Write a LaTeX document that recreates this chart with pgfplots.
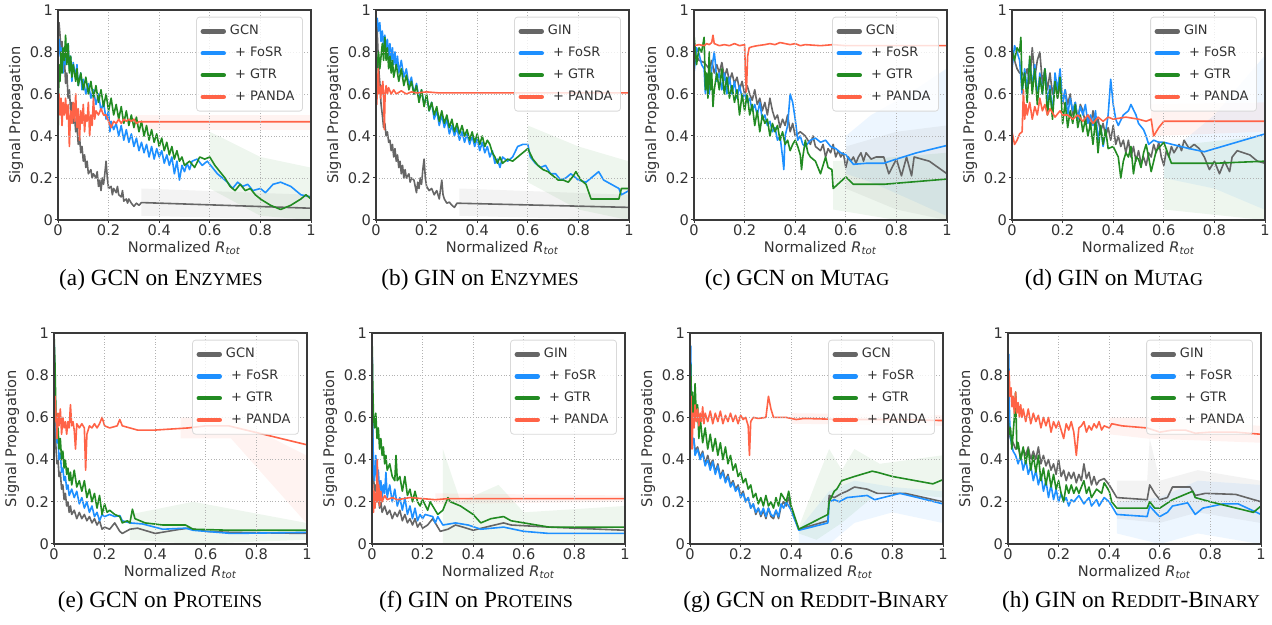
\documentclass[border=0pt]{standalone}
\usepackage{fontspec}
\setmainfont{Liberation Serif}
\setsansfont{DejaVu Sans}
\usepackage{pgfplots}
\pgfplotsset{compat=1.18}

\definecolor{gcngray}{HTML}{666666}
\definecolor{fosrblue}{HTML}{1E90FF}
\definecolor{gtrgreen}{HTML}{228B22}
\definecolor{pandared}{HTML}{FF6347}
\definecolor{framegray}{HTML}{3A3A3A}

\newcommand\fsc[1]{{\fontsize{9}{10}\selectfont #1}}

\pgfplotsset{
  panel/.style={
    scale only axis, width=126.5pt, height=105pt,
    xmin=0, xmax=1, ymin=0, ymax=1,
    xtick={0,0.2,0.4,0.6,0.8,1}, ytick={0,0.2,0.4,0.6,0.8,1},
    xtick pos=lower, ytick pos=left, axis on top,
    grid=major, grid style={densely dotted, black!30, line width=0.45pt},
    axis line style={draw=framegray, line width=0.55pt},
    tick align=outside, major tick length=1.3pt,
    tick style={draw=framegray, line width=0.5pt},
    ticklabel style={font=\sffamily\fontsize{7.3}{8}\selectfont, text=black!80, inner sep=1pt},
    /pgf/number format/assume math mode=true,
    xlabel={Normalized \textit{R}\textsubscript{\textit{tot}}},
    ylabel={Signal Propagation},
    every axis x label/.style={at={(axis description cs:0.5,0)}, anchor=center, yshift=-14pt, inner sep=0pt},
    every axis y label/.style={at={(axis description cs:-0.166,0.5)}, rotate=90, anchor=center, inner sep=0pt},
    label style={font=\sffamily\fontsize{7.3}{8}\selectfont, text=black!80},
    legend style={at={(0.968,0.968)}, anchor=north east,
      font=\sffamily\fontsize{6.5}{7}\selectfont, text=black!80,
      draw=black!15, rounded corners=1.5pt, fill=white, fill opacity=0.8,
      text opacity=1, inner xsep=2pt, inner ysep=2pt, row sep=0.6pt},
    legend cell align=left,
    legend image code/.code={\draw[line width=2.2pt, line cap=round] (0.5pt,0pt) -- (11pt,0pt);},
  },
  sGCN/.style={color=gcngray, line width=0.8pt, line join=round},
  sFOSR/.style={color=fosrblue, line width=0.8pt, line join=round},
  sGTR/.style={color=gtrgreen, line width=0.8pt, line join=round},
  sPANDA/.style={color=pandared, line width=0.8pt, line join=round},
  band/.style={draw=none, fill=#1, fill opacity=0.08, forget plot},
}
\newcommand\legGCN{\legend{GCN,\hspace{2.6pt}+ FoSR,\hspace{2.6pt}+ GTR,\hspace{2.6pt}+ PANDA}}
\newcommand\legGIN{\legend{GIN,\hspace{2.6pt}+ FoSR,\hspace{2.6pt}+ GTR,\hspace{2.6pt}+ PANDA}}

\begin{document}
\begin{tikzpicture}
\useasboundingbox (0pt,0pt) rectangle (636pt,312.5pt);

% ---------------- (a) GCN on ENZYMES
\begin{axis}[panel, at={(29pt,202.5pt)}, anchor=south west]
\addplot[band=gtrgreen] coordinates {(0.6,0.42)(0.8,0.3)(0.997,0.25)(0.997,0.0)(0.8,0.02)(0.6,0.15)};
\addplot[band=gcngray] coordinates {(0.33,0.15)(0.997,0.12)(0.997,0.0)(0.33,0.02)};
\addplot[band=pandared] coordinates {(0.3,0.5)(0.997,0.5)(0.997,0.43)(0.3,0.43)};
\addplot[sGCN] coordinates {(0,0.86)(0.004,0.94)(0.008,0.88)(0.012,0.80)(0.016,0.85)(0.02,0.72)(0.025,0.78)(0.03,0.65)(0.035,0.70)(0.04,0.58)(0.045,0.62)(0.05,0.52)(0.055,0.56)(0.06,0.46)(0.065,0.50)(0.07,0.42)(0.075,0.45)(0.08,0.36)(0.085,0.40)(0.09,0.32)(0.095,0.35)(0.1,0.28)(0.105,0.31)(0.11,0.25)(0.115,0.28)(0.12,0.22)(0.13,0.24)(0.135,0.2)(0.14,0.22)(0.15,0.2)(0.155,0.23)(0.16,0.16)(0.165,0.19)(0.17,0.14)(0.175,0.2)(0.18,0.17)(0.185,0.22)(0.19,0.28)(0.195,0.2)(0.2,0.15)(0.21,0.16)(0.215,0.12)(0.22,0.15)(0.23,0.13)(0.235,0.16)(0.24,0.12)(0.25,0.11)(0.255,0.14)(0.26,0.09)(0.27,0.1)(0.275,0.08)(0.28,0.1)(0.29,0.08)(0.3,0.065)(0.31,0.08)(0.32,0.07)(0.33,0.083)(1,0.056)};
\addplot[sFOSR] coordinates {(0,0.75)(0.005,0.86)(0.01,0.78)(0.015,0.82)(0.02,0.7)(0.025,0.8)(0.03,0.74)(0.04,0.84)(0.045,0.72)(0.05,0.78)(0.055,0.66)(0.06,0.75)(0.07,0.68)(0.075,0.74)(0.08,0.64)(0.09,0.7)(0.095,0.62)(0.1,0.67)(0.11,0.6)(0.12,0.65)(0.13,0.58)(0.14,0.62)(0.15,0.55)(0.16,0.6)(0.17,0.52)(0.18,0.56)(0.19,0.48)(0.2,0.52)(0.205,0.42)(0.21,0.47)(0.22,0.43)(0.23,0.46)(0.24,0.4)(0.25,0.45)(0.26,0.38)(0.27,0.43)(0.28,0.37)(0.29,0.41)(0.3,0.35)(0.31,0.39)(0.32,0.33)(0.33,0.37)(0.34,0.32)(0.35,0.36)(0.36,0.3)(0.37,0.35)(0.38,0.29)(0.39,0.34)(0.4,0.3)(0.41,0.33)(0.42,0.27)(0.43,0.31)(0.44,0.26)(0.45,0.3)(0.46,0.22)(0.47,0.28)(0.48,0.19)(0.49,0.26)(0.5,0.23)(0.51,0.27)(0.52,0.24)(0.53,0.28)(0.55,0.29)(0.57,0.26)(0.59,0.28)(0.61,0.25)(0.63,0.22)(0.65,0.2)(0.67,0.18)(0.69,0.15)(0.71,0.18)(0.73,0.16)(0.75,0.17)(0.77,0.14)(0.8,0.15)(0.82,0.13)(0.85,0.17)(0.88,0.18)(0.92,0.16)(0.96,0.12)(1,0.11)};
\addplot[sGTR] coordinates {(0,0.38)(0.004,0.74)(0.008,0.66)(0.012,0.8)(0.016,0.7)(0.02,0.82)(0.025,0.76)(0.03,0.88)(0.035,0.74)(0.04,0.84)(0.045,0.7)(0.05,0.78)(0.055,0.68)(0.06,0.74)(0.07,0.66)(0.075,0.72)(0.08,0.64)(0.09,0.7)(0.1,0.62)(0.11,0.68)(0.12,0.6)(0.13,0.66)(0.14,0.58)(0.15,0.64)(0.16,0.56)(0.17,0.62)(0.18,0.54)(0.19,0.6)(0.2,0.52)(0.21,0.58)(0.22,0.5)(0.23,0.55)(0.24,0.48)(0.25,0.54)(0.26,0.46)(0.27,0.52)(0.28,0.45)(0.29,0.5)(0.3,0.44)(0.31,0.49)(0.32,0.42)(0.33,0.47)(0.34,0.4)(0.35,0.45)(0.36,0.38)(0.37,0.43)(0.38,0.37)(0.39,0.41)(0.4,0.35)(0.41,0.39)(0.42,0.33)(0.43,0.37)(0.44,0.31)(0.45,0.35)(0.46,0.29)(0.47,0.33)(0.48,0.28)(0.49,0.3)(0.5,0.26)(0.52,0.28)(0.54,0.25)(0.56,0.3)(0.58,0.29)(0.6,0.3)(0.62,0.26)(0.64,0.23)(0.66,0.2)(0.68,0.16)(0.7,0.14)(0.72,0.17)(0.74,0.14)(0.76,0.15)(0.78,0.12)(0.8,0.1)(0.84,0.07)(0.88,0.05)(0.92,0.07)(0.96,0.1)(0.98,0.12)(1,0.1)};
\addplot[sPANDA] coordinates {(0,0.55)(0.004,0.6)(0.008,0.5)(0.012,0.58)(0.016,0.45)(0.02,0.56)(0.025,0.5)(0.03,0.58)(0.035,0.48)(0.04,0.55)(0.045,0.35)(0.05,0.52)(0.055,0.46)(0.06,0.56)(0.065,0.47)(0.07,0.6)(0.075,0.44)(0.08,0.53)(0.085,0.38)(0.09,0.52)(0.095,0.46)(0.1,0.55)(0.105,0.42)(0.11,0.5)(0.115,0.47)(0.12,0.56)(0.125,0.4)(0.13,0.5)(0.135,0.45)(0.14,0.58)(0.145,0.48)(0.15,0.52)(0.16,0.5)(0.17,0.53)(0.18,0.5)(0.19,0.5)(0.2,0.47)(0.21,0.44)(0.22,0.47)(0.23,0.46)(0.24,0.48)(0.25,0.46)(0.26,0.48)(0.27,0.47)(0.28,0.48)(0.29,0.47)(0.3,0.48)(0.31,0.46)(0.32,0.468)(1,0.468)};
\legGCN
\end{axis}

% ---------------- (b) GIN on ENZYMES
\begin{axis}[panel, at={(188pt,202.5pt)}, anchor=south west]
\addplot[band=gtrgreen] coordinates {(0.6,0.45)(0.8,0.35)(0.997,0.28)(0.997,0.0)(0.8,0.05)(0.6,0.18)};
\addplot[band=gcngray] coordinates {(0.33,0.15)(0.997,0.12)(0.997,0.0)(0.33,0.02)};
\addplot[sGCN] coordinates {(0,0.84)(0.004,0.92)(0.008,0.8)(0.012,0.7)(0.016,0.64)(0.02,0.55)(0.025,0.5)(0.03,0.44)(0.035,0.46)(0.04,0.4)(0.045,0.42)(0.05,0.37)(0.055,0.38)(0.06,0.33)(0.065,0.36)(0.07,0.3)(0.075,0.34)(0.08,0.28)(0.085,0.31)(0.09,0.25)(0.095,0.28)(0.1,0.22)(0.105,0.26)(0.11,0.2)(0.115,0.24)(0.12,0.2)(0.13,0.22)(0.135,0.18)(0.14,0.2)(0.15,0.19)(0.155,0.16)(0.16,0.13)(0.165,0.18)(0.17,0.15)(0.175,0.2)(0.18,0.17)(0.185,0.24)(0.19,0.29)(0.195,0.2)(0.2,0.16)(0.21,0.14)(0.22,0.15)(0.23,0.12)(0.24,0.14)(0.25,0.1)(0.26,0.19)(0.265,0.12)(0.27,0.1)(0.28,0.08)(0.29,0.085)(0.3,0.07)(0.31,0.06)(0.32,0.08)(1,0.06)};
\addplot[sFOSR] coordinates {(0,0.94)(0.005,0.96)(0.01,0.9)(0.015,0.94)(0.02,0.85)(0.025,0.9)(0.03,0.82)(0.035,0.88)(0.04,0.8)(0.045,0.86)(0.05,0.78)(0.055,0.84)(0.06,0.76)(0.065,0.82)(0.07,0.74)(0.075,0.8)(0.08,0.72)(0.085,0.78)(0.09,0.7)(0.1,0.76)(0.11,0.68)(0.12,0.72)(0.13,0.64)(0.14,0.68)(0.15,0.6)(0.16,0.65)(0.17,0.58)(0.18,0.62)(0.19,0.55)(0.2,0.59)(0.21,0.52)(0.22,0.56)(0.23,0.48)(0.24,0.52)(0.25,0.45)(0.26,0.5)(0.27,0.44)(0.28,0.48)(0.29,0.41)(0.3,0.45)(0.31,0.4)(0.32,0.44)(0.33,0.38)(0.34,0.42)(0.35,0.37)(0.36,0.41)(0.37,0.36)(0.38,0.4)(0.39,0.35)(0.4,0.39)(0.41,0.33)(0.42,0.37)(0.43,0.32)(0.44,0.35)(0.45,0.3)(0.46,0.33)(0.47,0.27)(0.48,0.29)(0.49,0.25)(0.5,0.3)(0.52,0.28)(0.54,0.3)(0.56,0.35)(0.58,0.36)(0.6,0.36)(0.61,0.3)(0.63,0.27)(0.65,0.25)(0.67,0.26)(0.69,0.22)(0.71,0.22)(0.73,0.19)(0.75,0.2)(0.77,0.22)(0.8,0.19)(0.83,0.18)(0.85,0.2)(0.88,0.23)(0.9,0.19)(0.93,0.17)(0.96,0.15)(0.97,0.12)(1,0.14)};
\addplot[sGTR] coordinates {(0,0.68)(0.005,0.74)(0.01,0.8)(0.015,0.72)(0.02,0.78)(0.025,0.84)(0.03,0.76)(0.035,0.87)(0.04,0.76)(0.045,0.82)(0.05,0.72)(0.055,0.78)(0.06,0.7)(0.065,0.76)(0.07,0.68)(0.08,0.74)(0.09,0.66)(0.1,0.72)(0.11,0.64)(0.12,0.69)(0.13,0.62)(0.14,0.66)(0.15,0.6)(0.16,0.64)(0.17,0.56)(0.18,0.62)(0.19,0.54)(0.2,0.6)(0.21,0.52)(0.22,0.56)(0.23,0.5)(0.24,0.54)(0.25,0.47)(0.26,0.52)(0.27,0.46)(0.28,0.5)(0.29,0.44)(0.3,0.48)(0.31,0.42)(0.32,0.46)(0.33,0.41)(0.34,0.45)(0.35,0.4)(0.36,0.43)(0.37,0.38)(0.38,0.42)(0.39,0.37)(0.4,0.41)(0.41,0.36)(0.42,0.4)(0.43,0.35)(0.44,0.38)(0.45,0.36)(0.46,0.32)(0.47,0.3)(0.48,0.27)(0.49,0.3)(0.5,0.27)(0.52,0.29)(0.54,0.28)(0.56,0.3)(0.58,0.32)(0.6,0.34)(0.62,0.29)(0.64,0.26)(0.66,0.24)(0.68,0.23)(0.7,0.21)(0.72,0.19)(0.74,0.19)(0.76,0.18)(0.78,0.21)(0.79,0.23)(0.81,0.19)(0.83,0.17)(0.85,0.1)(0.9,0.1)(0.96,0.1)(0.97,0.15)(1,0.15)};
\addplot[sPANDA] coordinates {(0,0.6)(0.003,0.55)(0.006,0.65)(0.009,0.72)(0.012,0.6)(0.015,0.63)(0.018,0.58)(0.021,0.64)(0.024,0.6)(0.027,0.66)(0.03,0.58)(0.033,0.43)(0.036,0.6)(0.04,0.64)(0.045,0.6)(0.05,0.63)(0.06,0.6)(0.07,0.62)(0.08,0.6)(0.1,0.615)(0.12,0.6)(0.14,0.61)(0.16,0.605)(0.2,0.61)(0.25,0.605)(1,0.605)};
\legGIN
\end{axis}

% ---------------- (c) GCN on MUTAG
\begin{axis}[panel, at={(347pt,202.5pt)}, anchor=south west]
\addplot[band=fosrblue] coordinates {(0.6,0.4)(0.7,0.5)(0.85,0.6)(0.997,0.72)(0.997,0.02)(0.85,0.1)(0.7,0.18)(0.6,0.22)};
\addplot[band=gcngray] coordinates {(0.6,0.35)(0.8,0.42)(0.997,0.45)(0.997,0.0)(0.8,0.05)(0.6,0.15)};
\addplot[band=gtrgreen] coordinates {(0.55,0.28)(0.8,0.3)(0.997,0.32)(0.997,0.0)(0.8,0.0)(0.55,0.05)};
\addplot[sGCN] coordinates {(0,0.8)(0.02,0.76)(0.04,0.75)(0.06,0.72)(0.07,0.76)(0.08,0.7)(0.09,0.74)(0.1,0.7)(0.11,0.75)(0.12,0.68)(0.13,0.72)(0.14,0.66)(0.15,0.7)(0.16,0.65)(0.17,0.68)(0.18,0.62)(0.19,0.66)(0.2,0.6)(0.21,0.64)(0.22,0.6)(0.23,0.57)(0.24,0.62)(0.25,0.55)(0.26,0.58)(0.27,0.52)(0.28,0.56)(0.29,0.5)(0.3,0.58)(0.31,0.52)(0.32,0.48)(0.33,0.5)(0.34,0.44)(0.35,0.48)(0.36,0.45)(0.37,0.5)(0.38,0.42)(0.39,0.46)(0.4,0.4)(0.42,0.42)(0.44,0.4)(0.45,0.38)(0.46,0.36)(0.47,0.4)(0.48,0.35)(0.5,0.33)(0.51,0.36)(0.52,0.3)(0.53,0.34)(0.54,0.32)(0.55,0.36)(0.56,0.3)(0.57,0.33)(0.58,0.3)(0.59,0.32)(0.6,0.25)(0.61,0.3)(0.62,0.28)(0.63,0.3)(0.64,0.27)(0.65,0.3)(0.66,0.32)(0.67,0.28)(0.68,0.32)(0.7,0.29)(0.72,0.3)(0.75,0.3)(0.77,0.22)(0.8,0.29)(0.82,0.21)(0.84,0.3)(0.86,0.21)(0.87,0.3)(0.93,0.28)(1,0.22)};
\addplot[sFOSR] coordinates {(0,0.7)(0.01,0.82)(0.02,0.79)(0.03,0.74)(0.04,0.72)(0.045,0.6)(0.05,0.66)(0.06,0.6)(0.07,0.72)(0.08,0.8)(0.085,0.74)(0.09,0.66)(0.1,0.7)(0.11,0.62)(0.12,0.7)(0.13,0.6)(0.14,0.68)(0.15,0.6)(0.16,0.66)(0.17,0.58)(0.18,0.64)(0.19,0.58)(0.2,0.6)(0.21,0.56)(0.22,0.58)(0.23,0.52)(0.24,0.55)(0.25,0.5)(0.26,0.56)(0.27,0.48)(0.28,0.5)(0.29,0.45)(0.3,0.47)(0.31,0.42)(0.32,0.44)(0.33,0.38)(0.34,0.4)(0.35,0.3)(0.355,0.24)(0.36,0.4)(0.37,0.45)(0.38,0.6)(0.39,0.56)(0.4,0.48)(0.41,0.38)(0.42,0.4)(0.43,0.36)(0.44,0.35)(0.46,0.38)(0.48,0.39)(0.5,0.37)(0.52,0.38)(0.54,0.35)(0.56,0.34)(0.58,0.32)(0.6,0.31)(0.63,0.265)(0.68,0.27)(0.75,0.27)(0.8,0.29)(0.88,0.32)(1,0.355)};
\addplot[sGTR] coordinates {(0,0.88)(0.01,0.74)(0.02,0.82)(0.03,0.8)(0.04,0.87)(0.045,0.62)(0.05,0.7)(0.055,0.58)(0.06,0.8)(0.065,0.62)(0.07,0.7)(0.075,0.54)(0.08,0.62)(0.09,0.7)(0.1,0.62)(0.11,0.72)(0.12,0.6)(0.13,0.68)(0.14,0.58)(0.15,0.64)(0.16,0.56)(0.17,0.62)(0.18,0.5)(0.19,0.6)(0.2,0.52)(0.21,0.6)(0.22,0.5)(0.23,0.55)(0.24,0.45)(0.25,0.52)(0.26,0.42)(0.27,0.5)(0.28,0.46)(0.29,0.48)(0.3,0.4)(0.31,0.46)(0.32,0.42)(0.33,0.45)(0.34,0.38)(0.35,0.42)(0.36,0.36)(0.37,0.38)(0.38,0.33)(0.39,0.36)(0.4,0.38)(0.41,0.35)(0.42,0.31)(0.425,0.24)(0.43,0.3)(0.44,0.38)(0.45,0.32)(0.46,0.3)(0.48,0.28)(0.5,0.22)(0.52,0.3)(0.53,0.25)(0.545,0.24)(0.55,0.15)(0.6,0.205)(0.63,0.17)(0.75,0.17)(1,0.195)};
\addplot[sPANDA] coordinates {(0,0.83)(0.02,0.835)(0.04,0.83)(0.05,0.84)(0.06,0.835)(0.07,0.845)(0.075,0.88)(0.08,0.84)(0.1,0.83)(0.12,0.835)(0.14,0.83)(0.16,0.84)(0.18,0.83)(0.2,0.835)(0.203,0.7)(0.207,0.61)(0.212,0.78)(0.218,0.82)(0.23,0.825)(0.25,0.83)(0.28,0.835)(0.3,0.84)(0.32,0.835)(0.34,0.845)(0.36,0.84)(0.38,0.835)(0.4,0.84)(0.42,0.83)(0.44,0.835)(0.5,0.83)(0.55,0.835)(0.6,0.83)(1,0.83)};
\legGCN
\end{axis}

% ---------------- (d) GIN on MUTAG
\begin{axis}[panel, at={(506pt,202.5pt)}, anchor=south west]
\addplot[band=fosrblue] coordinates {(0.6,0.3)(0.8,0.5)(0.997,0.78)(0.997,0.05)(0.8,0.15)(0.6,0.2)};
\addplot[band=pandared] coordinates {(0.55,0.55)(0.997,0.56)(0.997,0.42)(0.55,0.4)};
\addplot[band=gtrgreen] coordinates {(0.6,0.35)(0.997,0.4)(0.997,0.0)(0.6,0.05)};
\addplot[sGCN] coordinates {(0,0.8)(0.01,0.76)(0.02,0.72)(0.03,0.7)(0.04,0.7)(0.05,0.68)(0.06,0.72)(0.07,0.65)(0.08,0.82)(0.09,0.68)(0.1,0.76)(0.11,0.8)(0.12,0.65)(0.13,0.72)(0.14,0.62)(0.15,0.7)(0.16,0.6)(0.17,0.66)(0.18,0.58)(0.19,0.64)(0.2,0.55)(0.21,0.62)(0.22,0.55)(0.23,0.6)(0.24,0.5)(0.25,0.56)(0.26,0.48)(0.27,0.55)(0.28,0.52)(0.29,0.46)(0.3,0.5)(0.31,0.44)(0.32,0.52)(0.33,0.45)(0.34,0.48)(0.35,0.42)(0.36,0.46)(0.37,0.4)(0.38,0.44)(0.39,0.38)(0.4,0.45)(0.41,0.36)(0.42,0.4)(0.43,0.35)(0.44,0.38)(0.45,0.32)(0.46,0.38)(0.47,0.3)(0.48,0.35)(0.49,0.28)(0.5,0.33)(0.51,0.27)(0.52,0.3)(0.53,0.26)(0.54,0.32)(0.55,0.3)(0.56,0.36)(0.57,0.32)(0.58,0.37)(0.59,0.3)(0.6,0.26)(0.61,0.33)(0.62,0.3)(0.63,0.35)(0.64,0.32)(0.66,0.36)(0.67,0.33)(0.68,0.38)(0.7,0.34)(0.72,0.36)(0.74,0.34)(0.76,0.3)(0.78,0.24)(0.8,0.28)(0.82,0.22)(0.84,0.28)(0.86,0.23)(0.87,0.3)(0.89,0.33)(0.94,0.31)(0.97,0.28)(1,0.27)};
\addplot[sFOSR] coordinates {(0,0.72)(0.01,0.83)(0.02,0.8)(0.03,0.76)(0.04,0.6)(0.05,0.72)(0.06,0.62)(0.07,0.76)(0.08,0.64)(0.09,0.74)(0.1,0.58)(0.11,0.7)(0.12,0.6)(0.13,0.72)(0.14,0.56)(0.15,0.64)(0.16,0.5)(0.17,0.7)(0.18,0.62)(0.19,0.72)(0.2,0.56)(0.21,0.62)(0.22,0.5)(0.23,0.58)(0.24,0.52)(0.25,0.56)(0.26,0.48)(0.27,0.54)(0.28,0.5)(0.29,0.55)(0.3,0.46)(0.31,0.5)(0.32,0.45)(0.33,0.52)(0.34,0.38)(0.35,0.45)(0.36,0.35)(0.37,0.42)(0.38,0.5)(0.39,0.67)(0.4,0.55)(0.41,0.48)(0.42,0.45)(0.44,0.5)(0.46,0.52)(0.47,0.55)(0.49,0.5)(0.5,0.46)(0.52,0.43)(0.53,0.4)(0.54,0.36)(0.56,0.38)(0.58,0.37)(0.6,0.37)(0.7,0.34)(0.76,0.325)(1,0.41)};
\addplot[sGTR] coordinates {(0,0.81)(0.01,0.76)(0.02,0.82)(0.03,0.8)(0.035,0.87)(0.04,0.62)(0.05,0.7)(0.06,0.56)(0.07,0.78)(0.08,0.6)(0.09,0.72)(0.1,0.55)(0.11,0.68)(0.12,0.6)(0.13,0.72)(0.14,0.5)(0.15,0.62)(0.16,0.48)(0.17,0.66)(0.18,0.58)(0.19,0.68)(0.2,0.46)(0.21,0.56)(0.22,0.44)(0.23,0.52)(0.24,0.46)(0.25,0.55)(0.26,0.44)(0.27,0.5)(0.28,0.42)(0.29,0.48)(0.3,0.4)(0.31,0.46)(0.32,0.36)(0.33,0.48)(0.34,0.32)(0.35,0.45)(0.36,0.36)(0.37,0.43)(0.38,0.34)(0.4,0.35)(0.42,0.3)(0.43,0.2)(0.44,0.28)(0.45,0.32)(0.46,0.3)(0.47,0.35)(0.48,0.22)(0.49,0.3)(0.5,0.29)(0.51,0.25)(0.52,0.32)(0.53,0.36)(0.54,0.3)(0.55,0.23)(0.57,0.33)(0.6,0.37)(0.63,0.27)(0.8,0.27)(1,0.28)};
\addplot[sPANDA] coordinates {(0,0.42)(0.01,0.36)(0.02,0.38)(0.03,0.41)(0.04,0.42)(0.045,0.62)(0.05,0.48)(0.055,0.55)(0.06,0.5)(0.07,0.56)(0.08,0.48)(0.09,0.54)(0.1,0.5)(0.11,0.58)(0.12,0.52)(0.13,0.55)(0.14,0.5)(0.15,0.53)(0.17,0.49)(0.19,0.52)(0.2,0.5)(0.22,0.5)(0.24,0.48)(0.26,0.5)(0.28,0.47)(0.3,0.5)(0.32,0.46)(0.34,0.49)(0.36,0.47)(0.38,0.49)(0.4,0.48)(0.45,0.49)(0.5,0.48)(0.53,0.47)(0.55,0.48)(0.56,0.4)(0.58,0.44)(0.6,0.47)(1,0.47)};
\legGIN
\end{axis}

% ---------------- (e) GCN on PROTEINS
\begin{axis}[panel, height=105.5pt, at={(27pt,40.5pt)}, anchor=south west]
\addplot[band=pandared] coordinates {(0.5,0.6)(0.7,0.6)(0.997,0.42)(0.997,0.1)(0.7,0.5)(0.5,0.5)};
\addplot[band=gtrgreen] coordinates {(0.3,0.14)(0.55,0.2)(0.997,0.1)(0.997,0.02)(0.55,0.0)(0.3,0.02)};
\addplot[sGCN] coordinates {(0,1)(0.004,0.6)(0.008,0.45)(0.012,0.38)(0.016,0.4)(0.02,0.32)(0.025,0.34)(0.03,0.26)(0.035,0.28)(0.04,0.21)(0.045,0.24)(0.05,0.18)(0.055,0.2)(0.06,0.15)(0.065,0.18)(0.07,0.14)(0.08,0.16)(0.09,0.12)(0.1,0.15)(0.11,0.12)(0.12,0.14)(0.13,0.11)(0.14,0.13)(0.15,0.1)(0.16,0.12)(0.17,0.09)(0.18,0.11)(0.19,0.07)(0.2,0.08)(0.22,0.07)(0.24,0.1)(0.26,0.06)(0.27,0.05)(0.3,0.07)(0.33,0.075)(0.4,0.05)(0.5,0.07)(0.53,0.075)(0.6,0.06)(0.7,0.055)(1,0.05)};
\addplot[sFOSR] coordinates {(0,1)(0.004,0.72)(0.008,0.55)(0.012,0.48)(0.016,0.5)(0.02,0.4)(0.025,0.43)(0.03,0.34)(0.035,0.36)(0.04,0.3)(0.045,0.32)(0.05,0.26)(0.055,0.28)(0.06,0.23)(0.07,0.26)(0.08,0.22)(0.09,0.25)(0.1,0.19)(0.11,0.22)(0.12,0.17)(0.13,0.2)(0.14,0.15)(0.15,0.18)(0.16,0.13)(0.17,0.15)(0.18,0.11)(0.19,0.14)(0.2,0.13)(0.22,0.14)(0.24,0.13)(0.26,0.135)(0.27,0.11)(0.3,0.1)(0.35,0.095)(0.43,0.07)(0.52,0.075)(0.55,0.065)(0.7,0.05)(1,0.055)};
\addplot[sGTR] coordinates {(0,1)(0.004,0.85)(0.008,0.6)(0.012,0.52)(0.016,0.55)(0.02,0.45)(0.025,0.5)(0.03,0.4)(0.035,0.44)(0.04,0.36)(0.045,0.4)(0.05,0.33)(0.055,0.36)(0.06,0.3)(0.065,0.34)(0.07,0.28)(0.08,0.35)(0.09,0.27)(0.1,0.3)(0.11,0.25)(0.12,0.3)(0.13,0.22)(0.14,0.26)(0.15,0.2)(0.16,0.24)(0.17,0.17)(0.18,0.23)(0.19,0.14)(0.2,0.19)(0.21,0.15)(0.22,0.16)(0.24,0.14)(0.26,0.13)(0.27,0.1)(0.29,0.11)(0.3,0.1)(0.31,0.165)(0.32,0.12)(0.36,0.1)(0.43,0.09)(0.52,0.09)(0.55,0.07)(0.7,0.065)(1,0.065)};
\addplot[sPANDA] coordinates {(0,0.55)(0.004,0.7)(0.008,0.6)(0.012,0.5)(0.016,0.62)(0.02,0.56)(0.025,0.64)(0.03,0.52)(0.035,0.6)(0.04,0.55)(0.045,0.58)(0.05,0.52)(0.055,0.58)(0.06,0.55)(0.065,0.66)(0.07,0.56)(0.075,0.58)(0.08,0.54)(0.085,0.45)(0.09,0.57)(0.1,0.55)(0.11,0.57)(0.12,0.55)(0.125,0.35)(0.13,0.52)(0.14,0.56)(0.15,0.55)(0.16,0.57)(0.17,0.55)(0.18,0.57)(0.19,0.6)(0.2,0.56)(0.22,0.55)(0.25,0.56)(0.26,0.59)(0.27,0.56)(0.3,0.55)(0.33,0.54)(0.4,0.54)(0.53,0.55)(0.6,0.56)(0.69,0.56)(1,0.47)};
\legGCN
\end{axis}

% ---------------- (f) GIN on PROTEINS
\begin{axis}[panel, height=105.5pt, at={(186pt,40.5pt)}, anchor=south west]
\addplot[band=gtrgreen] coordinates {(0.28,0.45)(0.35,0.2)(0.5,0.28)(0.6,0.15)(0.997,0.18)(0.997,0.0)(0.5,0.0)(0.28,0.0)};
\addplot[band=pandared] coordinates {(0.25,0.24)(0.997,0.23)(0.997,0.2)(0.25,0.19)};
\addplot[sGCN] coordinates {(0,1)(0.003,0.5)(0.006,0.32)(0.01,0.25)(0.015,0.28)(0.02,0.2)(0.025,0.22)(0.03,0.17)(0.035,0.2)(0.04,0.15)(0.05,0.18)(0.06,0.14)(0.07,0.16)(0.08,0.12)(0.09,0.15)(0.1,0.13)(0.11,0.16)(0.12,0.11)(0.13,0.14)(0.14,0.1)(0.15,0.12)(0.16,0.09)(0.17,0.12)(0.18,0.08)(0.19,0.1)(0.2,0.075)(0.22,0.09)(0.24,0.12)(0.26,0.08)(0.27,0.06)(0.3,0.07)(0.33,0.09)(0.36,0.08)(0.4,0.065)(0.45,0.08)(0.52,0.1)(0.55,0.09)(0.7,0.08)(1,0.065)};
\addplot[sFOSR] coordinates {(0,1)(0.003,0.55)(0.006,0.35)(0.01,0.3)(0.015,0.42)(0.02,0.3)(0.025,0.35)(0.03,0.25)(0.035,0.3)(0.04,0.22)(0.045,0.28)(0.05,0.24)(0.055,0.34)(0.06,0.22)(0.07,0.28)(0.08,0.2)(0.09,0.26)(0.1,0.18)(0.11,0.22)(0.12,0.16)(0.13,0.22)(0.14,0.14)(0.15,0.18)(0.16,0.12)(0.17,0.17)(0.18,0.11)(0.19,0.14)(0.2,0.12)(0.21,0.14)(0.24,0.13)(0.25,0.1)(0.26,0.13)(0.28,0.09)(0.33,0.1)(0.38,0.09)(0.43,0.07)(0.52,0.08)(0.6,0.06)(0.7,0.05)(1,0.05)};
\addplot[sGTR] coordinates {(0,1)(0.003,0.75)(0.006,0.6)(0.01,0.55)(0.015,0.62)(0.02,0.5)(0.025,0.55)(0.03,0.45)(0.035,0.5)(0.04,0.42)(0.045,0.46)(0.05,0.38)(0.055,0.42)(0.06,0.35)(0.07,0.38)(0.08,0.32)(0.09,0.3)(0.095,0.42)(0.1,0.3)(0.11,0.32)(0.12,0.25)(0.13,0.32)(0.14,0.23)(0.15,0.26)(0.16,0.2)(0.17,0.25)(0.18,0.2)(0.19,0.18)(0.2,0.21)(0.22,0.16)(0.23,0.2)(0.26,0.14)(0.28,0.16)(0.3,0.22)(0.31,0.2)(0.35,0.18)(0.4,0.14)(0.43,0.1)(0.47,0.12)(0.52,0.13)(0.55,0.11)(0.65,0.09)(0.7,0.08)(1,0.08)};
\addplot[sPANDA] coordinates {(0,0.2)(0.003,0.28)(0.006,0.15)(0.009,0.25)(0.012,0.17)(0.015,0.24)(0.018,0.2)(0.021,0.4)(0.024,0.2)(0.027,0.28)(0.03,0.18)(0.035,0.25)(0.04,0.2)(0.05,0.23)(0.06,0.21)(0.08,0.22)(0.1,0.21)(0.15,0.22)(0.25,0.21)(0.3,0.215)(1,0.215)};
\legGIN
\end{axis}

% ---------------- (g) GCN on REDDIT-BINARY
\begin{axis}[panel, height=105.5pt, at={(345pt,40.5pt)}, anchor=south west]
\addplot[band=gtrgreen] coordinates {(0.43,0.08)(0.5,0.3)(0.55,0.45)(0.6,0.35)(0.65,0.45)(0.75,0.38)(0.997,0.42)(0.997,0.22)(0.75,0.25)(0.6,0.1)(0.5,0.02)(0.43,0.05)};
\addplot[band=fosrblue] coordinates {(0.43,0.07)(0.55,0.25)(0.65,0.3)(0.8,0.27)(0.997,0.25)(0.997,0.1)(0.8,0.15)(0.65,0.1)(0.55,0.0)(0.43,0.0)};
\addplot[band=pandared] coordinates {(0.4,0.62)(0.997,0.61)(0.997,0.56)(0.4,0.57)};
\addplot[sGCN] coordinates {(0,0.75)(0.005,0.55)(0.01,0.48)(0.015,0.5)(0.02,0.44)(0.03,0.46)(0.04,0.41)(0.05,0.44)(0.06,0.38)(0.07,0.42)(0.08,0.37)(0.09,0.4)(0.1,0.34)(0.11,0.38)(0.12,0.32)(0.13,0.35)(0.14,0.3)(0.15,0.33)(0.16,0.28)(0.17,0.3)(0.18,0.26)(0.19,0.28)(0.2,0.23)(0.21,0.25)(0.22,0.2)(0.23,0.22)(0.24,0.17)(0.25,0.19)(0.26,0.14)(0.27,0.17)(0.28,0.13)(0.29,0.16)(0.3,0.12)(0.31,0.17)(0.32,0.13)(0.33,0.12)(0.34,0.16)(0.35,0.12)(0.36,0.18)(0.37,0.2)(0.38,0.18)(0.39,0.22)(0.4,0.16)(0.43,0.07)(0.545,0.11)(0.55,0.23)(0.57,0.22)(0.6,0.24)(0.62,0.25)(0.65,0.27)(0.7,0.26)(0.74,0.24)(0.85,0.24)(1,0.2)};
\addplot[sFOSR] coordinates {(0.003,0.94)(0.006,0.6)(0.01,0.48)(0.015,0.5)(0.02,0.42)(0.03,0.45)(0.04,0.4)(0.05,0.43)(0.06,0.37)(0.07,0.4)(0.08,0.35)(0.09,0.39)(0.1,0.33)(0.11,0.37)(0.12,0.31)(0.13,0.34)(0.14,0.29)(0.15,0.32)(0.16,0.27)(0.17,0.29)(0.18,0.25)(0.19,0.27)(0.2,0.22)(0.21,0.24)(0.22,0.2)(0.23,0.22)(0.24,0.17)(0.25,0.19)(0.26,0.15)(0.27,0.17)(0.28,0.14)(0.29,0.17)(0.3,0.13)(0.31,0.17)(0.32,0.14)(0.33,0.13)(0.34,0.16)(0.35,0.13)(0.36,0.19)(0.37,0.17)(0.38,0.2)(0.39,0.18)(0.4,0.16)(0.43,0.065)(0.545,0.1)(0.55,0.2)(0.57,0.21)(0.59,0.2)(0.62,0.22)(0.7,0.23)(0.73,0.21)(0.83,0.24)(0.9,0.22)(1,0.19)};
\addplot[sGTR] coordinates {(0,0.7)(0.003,0.85)(0.006,0.62)(0.01,0.72)(0.015,0.58)(0.02,0.76)(0.025,0.6)(0.03,0.66)(0.035,0.5)(0.04,0.6)(0.05,0.48)(0.06,0.55)(0.07,0.45)(0.08,0.52)(0.09,0.44)(0.1,0.5)(0.11,0.42)(0.12,0.48)(0.13,0.4)(0.14,0.46)(0.15,0.38)(0.16,0.42)(0.17,0.35)(0.18,0.38)(0.19,0.32)(0.2,0.34)(0.21,0.29)(0.22,0.31)(0.23,0.26)(0.24,0.28)(0.25,0.22)(0.26,0.24)(0.27,0.19)(0.28,0.22)(0.29,0.18)(0.3,0.23)(0.31,0.18)(0.32,0.2)(0.33,0.17)(0.34,0.22)(0.35,0.18)(0.36,0.24)(0.37,0.22)(0.38,0.2)(0.39,0.25)(0.4,0.18)(0.43,0.07)(0.545,0.14)(0.55,0.2)(0.57,0.25)(0.58,0.26)(0.6,0.3)(0.65,0.32)(0.72,0.345)(0.74,0.34)(0.8,0.32)(0.96,0.285)(1,0.305)};
\addplot[sPANDA] coordinates {(0,0.6)(0.004,0.7)(0.008,0.45)(0.012,0.62)(0.016,0.55)(0.02,0.66)(0.025,0.58)(0.03,0.64)(0.035,0.56)(0.04,0.62)(0.045,0.58)(0.05,0.65)(0.055,0.57)(0.06,0.62)(0.07,0.58)(0.08,0.63)(0.09,0.57)(0.1,0.62)(0.11,0.58)(0.12,0.63)(0.13,0.57)(0.14,0.61)(0.15,0.58)(0.16,0.62)(0.17,0.58)(0.18,0.61)(0.19,0.57)(0.2,0.61)(0.21,0.59)(0.22,0.6)(0.23,0.56)(0.235,0.42)(0.24,0.58)(0.25,0.6)(0.27,0.595)(0.3,0.6)(0.31,0.7)(0.32,0.64)(0.33,0.6)(0.36,0.6)(0.38,0.6)(0.4,0.595)(0.42,0.59)(0.45,0.595)(0.6,0.59)(0.8,0.59)(1,0.585)};
\legGCN
\end{axis}

% ---------------- (h) GIN on REDDIT-BINARY
\begin{axis}[panel, height=105.5pt, at={(504pt,40.5pt)}, anchor=south west]
\addplot[band=gcngray] coordinates {(0.43,0.3)(0.55,0.3)(0.56,0.5)(0.6,0.3)(0.75,0.35)(0.997,0.3)(0.997,0.1)(0.75,0.15)(0.6,0.1)(0.43,0.12)};
\addplot[band=fosrblue] coordinates {(0.43,0.2)(0.6,0.22)(0.75,0.3)(0.997,0.28)(0.997,0.0)(0.75,0.05)(0.6,0.0)(0.43,0.05)};
\addplot[band=pandared] coordinates {(0.4,0.6)(0.55,0.6)(0.997,0.56)(0.997,0.48)(0.55,0.5)(0.4,0.52)};
\addplot[sGCN] coordinates {(0,0.6)(0.005,0.52)(0.01,0.5)(0.02,0.48)(0.03,0.45)(0.04,0.47)(0.05,0.4)(0.06,0.45)(0.07,0.42)(0.08,0.46)(0.09,0.4)(0.1,0.44)(0.11,0.4)(0.12,0.46)(0.13,0.38)(0.14,0.42)(0.15,0.37)(0.16,0.4)(0.17,0.35)(0.18,0.38)(0.19,0.33)(0.2,0.4)(0.21,0.32)(0.22,0.35)(0.23,0.3)(0.24,0.34)(0.25,0.31)(0.26,0.34)(0.27,0.29)(0.28,0.33)(0.29,0.3)(0.3,0.38)(0.31,0.31)(0.32,0.34)(0.33,0.28)(0.34,0.32)(0.35,0.28)(0.36,0.3)(0.38,0.31)(0.4,0.28)(0.43,0.22)(0.55,0.21)(0.56,0.28)(0.58,0.24)(0.6,0.21)(0.63,0.22)(0.65,0.27)(0.72,0.27)(0.74,0.23)(0.78,0.24)(0.9,0.235)(1,0.2)};
\addplot[sFOSR] coordinates {(0,0.6)(0.003,0.9)(0.006,0.6)(0.01,0.5)(0.02,0.44)(0.03,0.42)(0.04,0.38)(0.05,0.42)(0.06,0.35)(0.07,0.4)(0.08,0.33)(0.09,0.37)(0.1,0.3)(0.11,0.35)(0.12,0.28)(0.13,0.33)(0.14,0.25)(0.15,0.3)(0.16,0.22)(0.17,0.28)(0.18,0.21)(0.19,0.26)(0.2,0.2)(0.21,0.24)(0.22,0.2)(0.23,0.22)(0.24,0.18)(0.25,0.21)(0.26,0.2)(0.28,0.23)(0.3,0.19)(0.32,0.22)(0.33,0.18)(0.35,0.21)(0.36,0.18)(0.38,0.22)(0.4,0.2)(0.43,0.14)(0.55,0.13)(0.56,0.18)(0.59,0.14)(0.6,0.13)(0.63,0.15)(0.65,0.18)(0.71,0.195)(0.74,0.14)(0.77,0.17)(0.85,0.19)(0.91,0.19)(1,0.14)};
\addplot[sGTR] coordinates {(0,0.6)(0.005,0.52)(0.01,0.55)(0.015,0.45)(0.02,0.52)(0.025,0.6)(0.03,0.72)(0.035,0.45)(0.04,0.48)(0.05,0.4)(0.06,0.46)(0.07,0.38)(0.08,0.45)(0.09,0.35)(0.1,0.42)(0.11,0.34)(0.12,0.42)(0.13,0.3)(0.14,0.36)(0.15,0.28)(0.16,0.35)(0.17,0.27)(0.18,0.33)(0.19,0.26)(0.2,0.3)(0.21,0.24)(0.22,0.2)(0.23,0.28)(0.24,0.24)(0.25,0.28)(0.26,0.24)(0.27,0.27)(0.28,0.24)(0.3,0.3)(0.31,0.24)(0.32,0.27)(0.33,0.22)(0.35,0.26)(0.37,0.24)(0.38,0.29)(0.39,0.27)(0.4,0.25)(0.41,0.2)(0.43,0.17)(0.55,0.17)(0.56,0.2)(0.58,0.17)(0.6,0.17)(0.65,0.21)(0.73,0.25)(0.74,0.22)(0.8,0.2)(0.97,0.15)(1,0.18)};
\addplot[sPANDA] coordinates {(0,0.65)(0.004,0.82)(0.008,0.7)(0.012,0.74)(0.016,0.65)(0.02,0.7)(0.025,0.62)(0.03,0.72)(0.035,0.62)(0.04,0.67)(0.045,0.6)(0.05,0.66)(0.055,0.6)(0.06,0.64)(0.07,0.58)(0.08,0.64)(0.09,0.57)(0.1,0.62)(0.11,0.58)(0.12,0.61)(0.13,0.55)(0.14,0.6)(0.15,0.56)(0.16,0.6)(0.17,0.53)(0.18,0.58)(0.19,0.55)(0.2,0.58)(0.21,0.54)(0.22,0.5)(0.23,0.57)(0.24,0.54)(0.25,0.58)(0.26,0.53)(0.27,0.42)(0.28,0.55)(0.29,0.56)(0.3,0.58)(0.31,0.53)(0.32,0.56)(0.33,0.54)(0.34,0.57)(0.35,0.55)(0.36,0.58)(0.37,0.54)(0.38,0.56)(0.4,0.55)(0.41,0.57)(0.45,0.56)(0.55,0.55)(0.6,0.53)(0.65,0.54)(0.7,0.54)(0.74,0.525)(0.8,0.53)(0.9,0.53)(1,0.52)};
\legGIN
\end{axis}

% captions
\begin{scope}[every node/.style={anchor=base, inner sep=0pt, font=\fontsize{11.6}{13}\selectfont}]
\node at (80.5pt,169.5pt) {(a)\ GCN on E\fsc{NZYMES}};
\node at (240pt,169.5pt) {(b)\ GIN on E\fsc{NZYMES}};
\node at (398.5pt,169.5pt) {(c)\ GCN on M\fsc{UTAG}};
\node at (557pt,169.5pt) {(d)\ GIN on M\fsc{UTAG}};
\node at (80pt,8.5pt) {(e)\ GCN on P\fsc{ROTEINS}};
\node at (238pt,8.5pt) {(f)\ GIN on P\fsc{ROTEINS}};
\node at (408pt,8.5pt) {(g)\ GCN on R\fsc{EDDIT}-B\fsc{INARY}};
\node at (565.5pt,8.5pt) {(h)\ GIN on R\fsc{EDDIT}-B\fsc{INARY}};
\end{scope}
\end{tikzpicture}
\end{document}
